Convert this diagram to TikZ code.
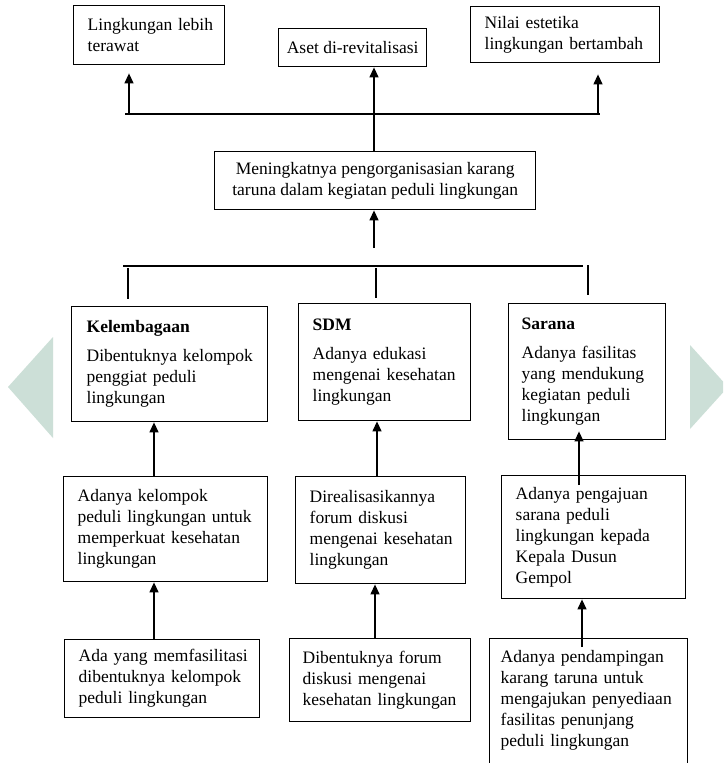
\documentclass[tikz,border=0pt]{standalone}
\usepackage{fontspec}
\setmainfont{Liberation Serif}
\usetikzlibrary{arrows.meta}
\definecolor{wm}{RGB}{204,223,215}
\newcommand{\lin}[1]{\mbox{#1}}
\begin{document}
\begin{tikzpicture}[x=1pt,y=-1pt,
  box/.style={draw=black, line width=1.4pt, fill=white, rectangle, anchor=north west,
    inner ysep=0pt, align=left, font=\fontsize{17.5}{21}\selectfont},
  cbox/.style={box, align=center},
  ln/.style={draw=black, line width=1.4pt},
  tick/.style={draw=black, line width=2.2pt},
  arr/.style={draw=black, line width=1.3pt, -{Triangle[width=9pt,length=10pt]}}
]
\path[use as bounding box] (0,0) rectangle (723,763);
\clip (0,0) rectangle (723,763);
\fill[white] (0,0) rectangle (723,763);

% watermark triangles
\fill[wm] (53,337) -- (8,387) -- (53,438) -- cycle;
\fill[wm] (690,345) -- (728,387) -- (690,429) -- cycle;

% top row
\node[box, minimum width=151pt, minimum height=59pt, inner xsep=14pt, text width=123pt] (lt) at (73,5)
  {\lin{Lingkungan lebih}\\terawat};
\node[cbox, minimum width=148pt, minimum height=38pt] (aset) at (278,28)
  {Aset di-revitalisasi};
\node[box, minimum width=189pt, minimum height=56pt, inner xsep=14pt, text width=161pt] (nilai) at (470,6)
  {\lin{Nilai estetika}\\\lin{lingkungan bertambah}};

% middle box
\node[cbox, minimum width=321pt, minimum height=58pt] (mid) at (214,151)
  {Meningkatnya pengorganisasian karang\\taruna dalam kegiatan peduli lingkungan};

% category boxes
\node[box, minimum width=196pt, minimum height=115pt, inner xsep=15pt, text width=166pt] (kel) at (71,306)
  {\textbf{Kelembagaan}\\[8pt]\lin{Dibentuknya kelompok}\\\lin{penggiat peduli}\\lingkungan};
\node[box, minimum width=172pt, minimum height=117pt, inner xsep=14pt, text width=144pt] (sdm) at (298,303)
  {\textbf{SDM}\\[8pt]\lin{Adanya edukasi}\\\lin{mengenai kesehatan}\\lingkungan};
\node[box, minimum width=157pt, minimum height=136pt, inner xsep=13pt, text width=131pt] (sarana) at (508,303)
  {\textbf{Sarana}\\[8pt]\lin{Adanya fasilitas}\\\lin{yang mendukung}\\\lin{kegiatan peduli}\\lingkungan};

% second row
\node[box, minimum width=204pt, minimum height=105pt, inner xsep=14pt, text width=176pt] (kelompok) at (63,476)
  {\lin{Adanya kelompok}\\\lin{peduli lingkungan untuk}\\\lin{memperkuat kesehatan}\\lingkungan};
\node[box, minimum width=170pt, minimum height=107pt, inner xsep=14pt, text width=142pt] (direal) at (295,476)
  {Direalisasikannya\\\lin{forum diskusi}\\\lin{mengenai kesehatan}\\lingkungan};
\node[box, minimum width=184pt, minimum height=123pt, inner xsep=14pt, text width=156pt] (pengajuan) at (501,475)
  {\lin{Adanya pengajuan}\\\lin{sarana peduli}\\\lin{lingkungan kepada}\\\lin{Kepala Dusun}\\Gempol};

% bottom row
\node[box, minimum width=195pt, minimum height=78pt, inner xsep=14pt, text width=167pt] (ayang) at (64,639)
  {\lin{Ada yang memfasilitasi}\\\lin{dibentuknya kelompok}\\\lin{peduli lingkungan}};
\node[box, minimum width=181pt, minimum height=83pt, inner xsep=13pt, text width=155pt] (dibentuk) at (289,638)
  {\lin{Dibentuknya forum}\\\lin{diskusi mengenai}\\\lin{kesehatan lingkungan}};
\node[box, minimum width=198pt, minimum height=146pt, inner xsep=11pt, text width=176pt] (pendamp) at (489,638)
  {\lin{Adanya pendampingan}\\\lin{karang taruna untuk}\\\lin{mengajukan penyediaan}\\\lin{fasilitas penunjang}\\\lin{peduli lingkungan}\\[5pt]\mbox{}};

% coordinates
\coordinate (hTL) at (125,114);
\coordinate (hTR) at (600,114);
\coordinate (jA) at (129,114);
\coordinate (jC) at (598,114);
\coordinate (jM) at (374,248);
\coordinate (hBL) at (123,266);
\coordinate (hBR) at (583,266);
\coordinate (tK) at (128,268);
\coordinate (tS) at (376,268);
\coordinate (tR) at (588,265);
\coordinate (cM) at (374,0);
\coordinate (cL) at (154,0);
\coordinate (cS) at (377,0);
\coordinate (cS2) at (375,0);
\coordinate (cR) at (579,0);
\coordinate (cR2) at (582,0);

% top connectors
\draw[ln] (hTL) -- (hTR);
\draw[arr, shorten >=8pt] (jA) -- (jA |- lt.south);
\draw[arr, shorten >=11pt] (jC) -- (jC |- nilai.south);
\draw[arr] (mid.north -| cM) -- (aset.south -| cM);
\draw[arr] (jM) -- (jM |- mid.south);

% lower bar and ticks
\draw[ln] (hBL) -- (hBR);
\draw[tick, shorten >=7pt] (tK) -- (tK |- kel.north);
\draw[tick, shorten >=5pt] (tS) -- (tS |- sdm.north);
\draw[tick, shorten >=8pt] (tR) -- (tR |- sarana.north);

% vertical arrows between rows
\draw[arr] (kelompok.north -| cL) -- (kel.south -| cL);
\draw[arr] (direal.north -| cS) -- (sdm.south -| cS);
\draw[arr] ([yshift=-10pt]pengajuan.north -| cR) -- ([yshift=9pt]sarana.south -| cR);
\draw[arr] (ayang.north -| cL) -- (kelompok.south -| cL);
\draw[arr] (dibentuk.north -| cS2) -- (direal.south -| cS2);
\draw[arr] ([yshift=-9pt]pendamp.north -| cR2) -- (pengajuan.south -| cR2);
\end{tikzpicture}
\end{document}
